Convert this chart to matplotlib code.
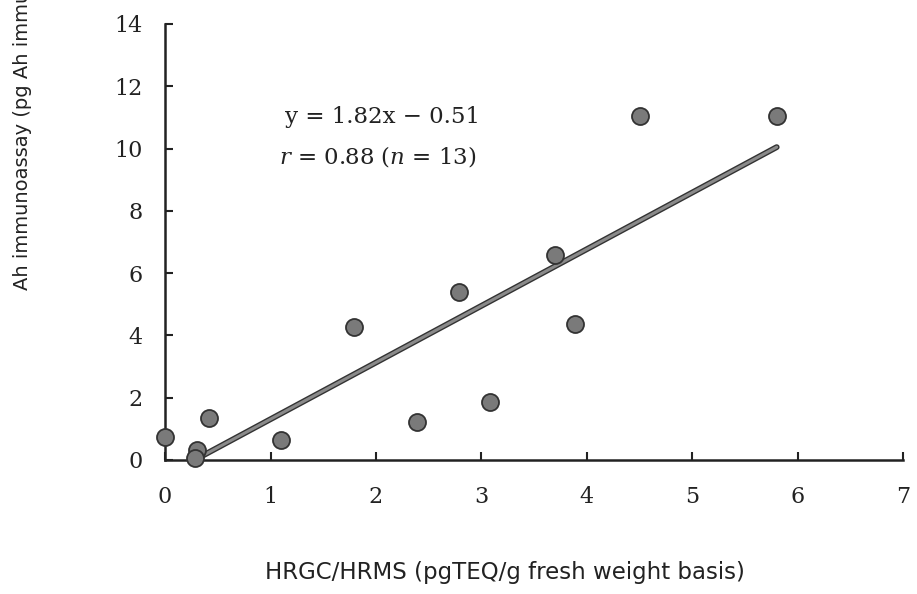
import matplotlib
matplotlib.use("Agg")
import matplotlib.pyplot as plt

# HRGC/HRMS vs Ah immunoassay
hrgc = [0.0, 0.30, 0.28, 0.42, 1.10, 1.79, 2.39, 2.79, 3.08, 3.70, 3.89, 4.50, 5.80]
ah = [0.74, 0.32, 0.05, 1.35, 0.64, 4.28, 1.22, 5.40, 1.86, 6.59, 4.37, 11.06, 11.06]
slope, intercept = 1.82, -0.51
fit_x = [0.28, 5.8]

x_ticks = [0, 1, 2, 3, 4, 5, 6, 7]
y_ticks = [0, 2, 4, 6, 8, 10, 12, 14]

plt.rcParams['mathtext.fontset'] = 'custom'
plt.rcParams['mathtext.rm'] = 'DejaVu Serif'
plt.rcParams['mathtext.it'] = 'DejaVu Serif:italic'

fig = plt.figure(figsize=(9.17, 5.94), dpi=100)
ax = fig.add_axes([0.18, 0.2256, 0.805, 0.734])

fit_y = [slope * v + intercept for v in fit_x]
ax.plot(fit_x, fit_y, color='#333333', lw=4.2, solid_capstyle='round', zorder=2)
ax.plot(fit_x, fit_y, color='#8a8a8a', lw=2.2, solid_capstyle='round', zorder=3)
ax.scatter(hrgc, ah, s=150, color='#7a7a7a', edgecolors='#333333', linewidths=1.3,
           zorder=4, clip_on=False)

ax.set_xlim(0, 7)
ax.set_ylim(0, 14)
ax.set_xticks(x_ticks)
ax.set_yticks(y_ticks)
ax.spines['top'].set_visible(False)
ax.spines['right'].set_visible(False)
for side in ['left', 'bottom']:
    ax.spines[side].set_linewidth(1.8)
    ax.spines[side].set_color('#222222')
ax.tick_params(direction='in', length=6, width=1.5, color='#222222')
ax.tick_params(axis='x', pad=19)
ax.tick_params(axis='y', pad=16)
for lab in ax.get_xticklabels() + ax.get_yticklabels():
    lab.set_fontfamily('DejaVu Serif')
    lab.set_fontsize(16)
    lab.set_color('#222222')

ax.text(1.14, 11.0, 'y = 1.82x \u2212 0.51', fontsize=16.5, family='DejaVu Serif',
        color='#222222', va='center')
ax.text(1.08, 9.75, r'$\mathit{r}$ = 0.88 ($\mathit{n}$ = 13)', fontsize=16.5,
        family='DejaVu Serif', color='#222222', va='center')

fig.text(0.551, 0.037, 'HRGC/HRMS (pgTEQ/g fresh weight basis)', ha='center', va='center',
         fontsize=16.5, family='DejaVu Sans', color='#222222')
fig.text(0.024, 0.512, 'Ah immunoassay (pg Ah immunoassay-TEQ/g fresh weight basis)',
         rotation=90, ha='center', va='bottom', fontsize=14,
         family='DejaVu Sans', color='#222222')

fig.savefig('out.png', dpi=100)
